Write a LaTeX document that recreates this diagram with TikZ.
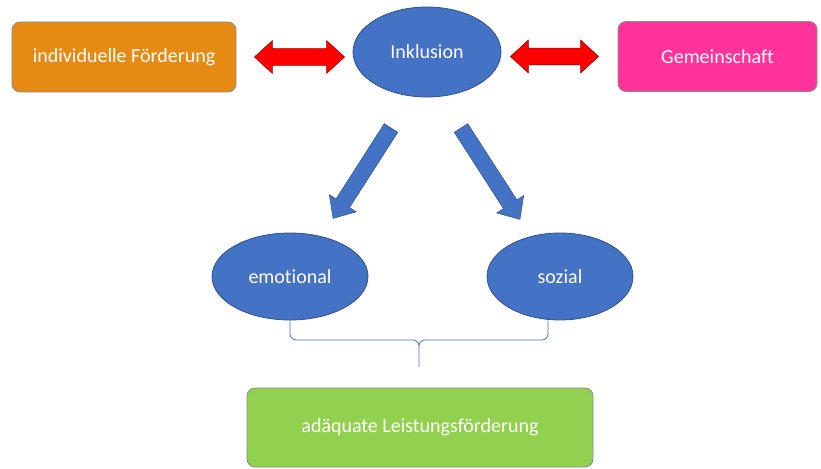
\documentclass[tikz,border=0pt]{standalone}
\usepackage{fontspec}
\setmainfont{Carlito}[Ligatures=NoCommon]
\usepackage{xcolor}
\usepackage{tikz}
\usetikzlibrary{calc,shapes.geometric}
\definecolor{foerderorange}{RGB}{230,138,20}
\definecolor{gemeinpink}{RGB}{255,51,153}
\definecolor{inkblue}{RGB}{68,114,196}
\definecolor{inkedge}{RGB}{47,82,143}
\definecolor{leistgreen}{RGB}{146,208,80}
\definecolor{arrowred}{RGB}{255,0,0}
% block arrow from #2 to #3: half shaft #4, half head #5, head length #6
\newcommand{\blockarrow}[6][]{%
  \path[#1] let \p1=(#2), \p2=(#3),
    \n1={atan2(\y2-\y1,\x2-\x1)}, \n2={veclen(\x2-\x1,\y2-\y1)} in
    [shift={(\p1)}, rotate=\n1]
    (0pt,#4) -- (\n2-#6,#4) -- (\n2-#6,#5) -- (\n2,0pt)
    -- (\n2-#6,-#5) -- (\n2-#6,-#4) -- (0pt,-#4) -- cycle;}
% same with a head at both ends
\newcommand{\dblockarrow}[6][]{%
  \path[#1] let \p1=(#2), \p2=(#3),
    \n1={atan2(\y2-\y1,\x2-\x1)}, \n2={veclen(\x2-\x1,\y2-\y1)} in
    [shift={(\p1)}, rotate=\n1]
    (#6,#4) -- (\n2-#6,#4) -- (\n2-#6,#5) -- (\n2,0pt)
    -- (\n2-#6,-#5) -- (\n2-#6,-#4) -- (#6,-#4) -- (#6,-#5)
    -- (0pt,0pt) -- (#6,#5) -- cycle;}
\tikzset{
  textfont/.style={font=\fontsize{20}{24}\selectfont,text=white},
  rectbox/.style={
    textfont,draw=black!45,line width=0.8pt,rounded corners=8pt,
    inner sep=0pt,align=center
  },
  ovalbox/.style={
    textfont,ellipse,draw=inkedge,line width=0.8pt,fill=inkblue,inner sep=0pt
  },
  redarrow/.style={fill=arrowred,draw=arrowred!60!black,line width=0.5pt},
  bluearrow/.style={fill=inkblue,draw=inkedge,line width=0.5pt},
  braceline/.style={draw=inkblue,line width=0.8pt,rounded corners=6pt}
}
\begin{document}
\begin{tikzpicture}[x=1pt,y=-1pt]
  \useasboundingbox (0,0) rectangle (821,468);
  \node[rectbox,fill=foerderorange,minimum width=224pt,minimum height=70pt] (indiv) at (124,57) {individuelle Förderung};
  \node[ovalbox,minimum width=148pt,minimum height=90pt] (ink) at (427,52) {Inklusion};
  \node[rectbox,fill=gemeinpink,minimum width=199pt,minimum height=70pt] (gem) at (717.5,56.5) {Gemeinschaft};
  \node[ovalbox,minimum width=156pt,minimum height=87pt] (emo) at (290,276.5) {emotional};
  \node[ovalbox,minimum width=146pt,minimum height=87pt] (soz) at (560,276.5) {sozial};
  \node[rectbox,fill=leistgreen,minimum width=346pt,minimum height=79pt] (leist) at (420,427.5) {adäquate Leistungsförderung};
  \dblockarrow[redarrow]{$(indiv.east)+(18,0)$}{$(indiv.east -| ink.west)+(-8,0)$}{8.3pt}{16.5pt}{18pt}
  \dblockarrow[redarrow]{$(gem.west -| ink.east)+(9,0)$}{$(gem.west)+(-19,0)$}{8.3pt}{16.5pt}{18pt}
  \blockarrow[bluearrow]{$(ink.center)+(-36,76)$}{$(emo.center)+(43,-58)$}{8pt}{16pt}{18pt}
  \blockarrow[bluearrow]{$(ink.center)+(34,76)$}{$(soz.center)+(-40,-57)$}{8pt}{16pt}{18pt}
  % brace under the two ovals
  \coordinate (bmid) at (419,340);
  \coordinate (btip) at (419,367);
  \draw[braceline] (emo.south) |- (bmid) -- (btip)
    ($(soz.south)+(-12,0)$) |- (bmid) -- (btip);
\end{tikzpicture}
\end{document}
